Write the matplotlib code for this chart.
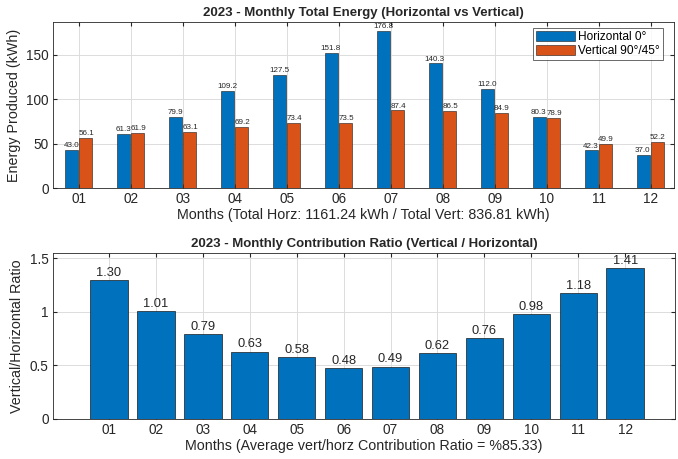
import matplotlib.pyplot as plt
import numpy as np

plt.rcParams['font.family'] = ['Liberation Sans', 'DejaVu Sans']

months = ['01', '02', '03', '04', '05', '06', '07', '08', '09', '10', '11', '12']
horizontal = [43.0, 61.3, 79.9, 109.2, 127.5, 151.8, 176.8, 140.3, 112.0, 80.3, 42.3, 37.0]
vertical = [56.1, 61.9, 63.1, 69.2, 73.4, 73.5, 87.4, 86.5, 84.9, 78.9, 49.9, 52.2]
ratio = [1.30, 1.01, 0.79, 0.63, 0.58, 0.48, 0.49, 0.62, 0.76, 0.98, 1.18, 1.41]
total_horz = 1161.24
total_vert = 836.81
avg_ratio = 85.33

blue = '#0072BD'
orange = '#D95319'
txt = '#262626'

fig = plt.figure(figsize=(6.78, 4.59), dpi=100)
W, H = 678, 459


def pix_axes(l, t, r, b):
    return fig.add_axes([l / W, 1 - b / H, (r - l) / W, (b - t) / H])


def style(ax):
    ax.grid(True, color='#dcdcdc', linewidth=0.7)
    ax.set_axisbelow(True)
    ax.tick_params(direction='in', length=3, color='#262626', labelsize=9.8, pad=3,
                   labelcolor=txt, top=True, right=True, labelright=False, labeltop=False)
    for s in ax.spines.values():
        s.set_color('#262626')
        s.set_linewidth(0.6)


x = np.arange(1, 13)

# top: monthly energy
ax1 = pix_axes(53, 22, 674, 188)
ax1.bar(x - 0.14, horizontal, 0.25, color=blue, edgecolor='#1a1a1a', linewidth=0.4, label='Horizontal 0°')
ax1.bar(x + 0.13, vertical, 0.25, color=orange, edgecolor='#1a1a1a', linewidth=0.4, label='Vertical 90°/45°')
for i in range(12):
    ax1.text(x[i] - 0.15, horizontal[i] + 1, '%.1f' % horizontal[i], ha='center', va='bottom',
             fontsize=5.8, color=txt)
    ax1.text(x[i] + 0.14, vertical[i] + 1, '%.1f' % vertical[i], ha='center', va='bottom',
             fontsize=5.8, color=txt)
ax1.set_xlim(0.5, 12.45)
ax1.set_ylim(0, 187)
ax1.set_yticks([0, 50, 100, 150])
ax1.set_xticks(x)
ax1.set_xticklabels(months)
style(ax1)
ax1.set_title('2023 - Monthly Total Energy (Horizontal vs Vertical)', fontsize=9.5, fontweight='bold',
              color=txt, pad=4)
ax1.set_ylabel('Energy Produced (kWh)', fontsize=10.3, color=txt, labelpad=4)
ax1.set_xlabel('Months (Total Horz: %.2f kWh / Total Vert: %.2f kWh)' % (total_horz, total_vert),
               fontsize=10.3, color=txt, labelpad=1)
leg = ax1.legend(loc='upper right', fontsize=8.6, frameon=True, fancybox=False,
                 borderpad=0.25, handlelength=3.2, handleheight=0.9, labelspacing=0.15,
                 handletextpad=0.3, borderaxespad=0,
                 bbox_to_anchor=(663 / W, 1 - 28 / H), bbox_transform=fig.transFigure)
leg.get_frame().set_edgecolor('#262626')
leg.get_frame().set_linewidth(0.6)

# bottom: ratio
ax2 = pix_axes(53, 253, 675, 419)
ax2.bar(x, ratio, 0.8, color=blue, edgecolor='#1a1a1a', linewidth=0.5)
for i in range(12):
    ax2.text(x[i], ratio[i] + 0.01, '%.2f' % ratio[i], ha='center', va='bottom', fontsize=9.3, color=txt)
ax2.set_xlim(-0.19, 13.06)
ax2.set_ylim(0, 1.55)
ax2.set_yticks([0, 0.5, 1, 1.5])
ax2.set_yticklabels(['0', '0.5', '1', '1.5'])
ax2.set_xticks(x)
ax2.set_xticklabels(months)
style(ax2)
ax2.set_title('2023 - Monthly Contribution Ratio (Vertical / Horizontal)', fontsize=9.5, fontweight='bold',
              color=txt, pad=4)
ax2.set_ylabel('Vertical/Horizontal Ratio', fontsize=10.3, color=txt, labelpad=4)
ax2.set_xlabel('Months (Average vert/horz Contribution Ratio = %%%.2f)' % avg_ratio,
               fontsize=10.3, color=txt, labelpad=1)

fig.savefig('out.png', dpi=100)
